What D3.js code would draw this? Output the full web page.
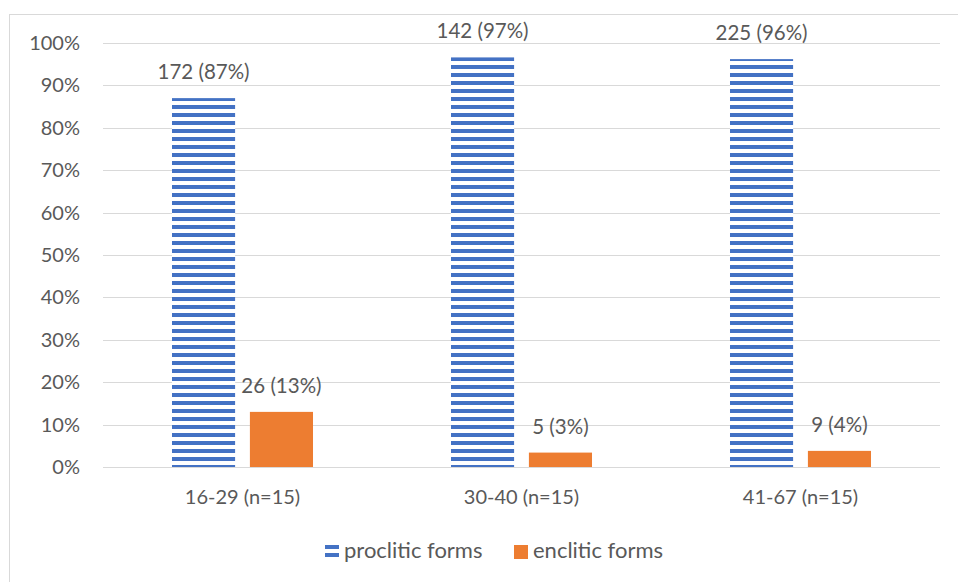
<!DOCTYPE html>
<html>
<head>
<meta charset="utf-8">
<script src="https://cdn.jsdelivr.net/npm/d3@7"></script>
<style>
  html, body { margin: 0; padding: 0; background: #fff; }
  svg { display: block; }
  text { font-family: Lato, "Open Sans", sans-serif; fill: #595959; }
</style>
</head>
<body>
<svg id="chart" width="958" height="582"></svg>
<script>
// Age groups and the two clitic series
const categories = ["16-29 (n=15)", "30-40 (n=15)", "41-67 (n=15)"];
const seriesNames = ["proclitic forms", "enclitic forms"];
const procliticCounts = [172, 142, 225];
const procliticPct = [87, 96.6, 96.2];
const encliticCounts = [26, 5, 9];
const encliticPct = [13, 3.4, 3.8];
const yTicks = [0, 10, 20, 30, 40, 50, 60, 70, 80, 90, 100];

const blue = "#4472C4";
const orange = "#ED7D31";

const svg = d3.select("#chart");
const plot = { left: 103, right: 940, top: 43, bottom: 467 };

// stripe pattern for the proclitic bars
const defs = svg.append("defs");
const pat = defs.append("pattern")
  .attr("id", "hstripe")
  .attr("patternUnits", "userSpaceOnUse")
  .attr("width", 8).attr("height", 8)
  .attr("y", 1);
pat.append("rect").attr("width", 8).attr("height", 8).attr("fill", "#fff");
pat.append("rect").attr("y", 0).attr("width", 8).attr("height", 4).attr("fill", blue);

// chart frame
svg.append("rect")
  .attr("x", 9.5).attr("y", 14.5)
  .attr("width", 970).attr("height", 600)
  .attr("fill", "none").attr("stroke", "#D9D9D9").attr("stroke-width", 1);

const y = d3.scaleLinear().domain([0, 100]).range([plot.bottom, plot.top]);
const x0 = d3.scaleBand().domain(categories).range([plot.left, plot.right])
  .paddingInner(0.4946).paddingOuter(0.2473);
const x1 = d3.scaleBand().domain(seriesNames).range([0, x0.bandwidth()])
  .paddingInner(0.19).paddingOuter(0);

// gridlines
svg.append("g").selectAll("line").data(yTicks).join("line")
  .attr("x1", plot.left).attr("x2", plot.right)
  .attr("y1", d => Math.round(y(d)) + 0.5).attr("y2", d => Math.round(y(d)) + 0.5)
  .attr("stroke", "#D9D9D9").attr("stroke-width", 1);

// y axis labels
const yAxis = d3.axisLeft(y).tickValues(yTicks).tickFormat(d => d + "%").tickSize(0).tickPadding(0);
const gy = svg.append("g").attr("transform", `translate(${80},0)`).call(yAxis);
gy.select(".domain").remove();
gy.selectAll("text").style("font-size", "20px").attr("fill", "#595959")
  .style("font-family", "Lato, 'Open Sans', sans-serif");

const rows = categories.map((c, i) => ({
  cat: c,
  bars: [
    { s: seriesNames[0], pct: procliticPct[i], n: procliticCounts[i] },
    { s: seriesNames[1], pct: encliticPct[i], n: encliticCounts[i] }
  ]
}));

const groups = svg.append("g").selectAll("g").data(rows).join("g")
  .attr("transform", d => `translate(${x0(d.cat)},0)`);

groups.selectAll("rect").data(d => d.bars).join("rect")
  .attr("x", d => x1(d.s))
  .attr("y", d => y(d.pct))
  .attr("width", x1.bandwidth())
  .attr("height", d => y(0) - y(d.pct))
  .attr("fill", (d, i) => i === 0 ? "url(#hstripe)" : orange);

groups.selectAll("text.lbl").data(d => d.bars).join("text")
  .attr("class", "lbl")
  .attr("x", d => x1(d.s) + x1.bandwidth() / 2)
  .attr("y", d => y(d.pct) - 19)
  .attr("text-anchor", "middle")
  .style("font-size", "20.5px")
  .text(d => `${d.n} (${Math.round(d.pct)}%)`);

// category axis labels
svg.append("g").selectAll("text").data(categories).join("text")
  .attr("x", d => x0(d) + x0.bandwidth() / 2)
  .attr("y", 504)
  .attr("text-anchor", "middle")
  .style("font-size", "20px")
  .text(d => d);

// legend
const legend = svg.append("g");
const legItems = [
  { name: seriesNames[0], x: 325, fill: "url(#hstripe)" },
  { name: seriesNames[1], x: 514, fill: orange }
];
const lg = legend.selectAll("g").data(legItems).join("g")
  .attr("transform", d => `translate(${d.x},0)`);
lg.append("rect").attr("x", 0).attr("y", 545).attr("width", 14).attr("height", 14)
  .attr("fill", d => d.fill);
lg.append("text").attr("x", 19).attr("y", 558)
  .style("font-size", "22px")
  .text(d => d.name);
</script>
</body>
</html>
